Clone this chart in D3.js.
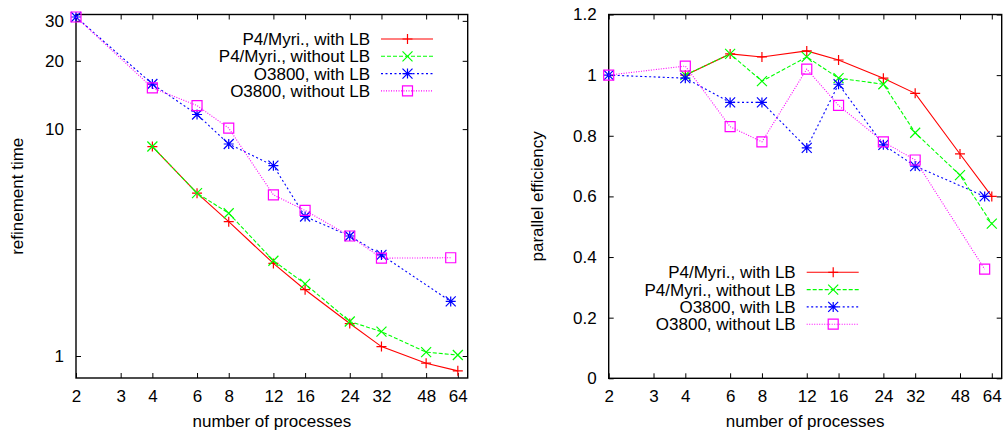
<!DOCTYPE html>
<html>
<head>
<meta charset="utf-8">
<script src="https://cdn.jsdelivr.net/npm/d3@7"></script>
<style>
	body { margin: 0; background: #fff; }
	svg text { font-family: "Liberation Sans", Arial, sans-serif; font-size: 17px; fill: #000; }
</style>
</head>
<body>
<svg id="chart" width="1006" height="435"></svg>
<script>
'use strict';

// processes used on each machine
var procsP4    = [4, 6, 8, 12, 16, 24, 32, 48, 64];
var procsO3800 = [2, 4, 6, 8, 12, 16, 24, 32, 60];

// refinement time (left plot)
var timeP4LB     = [8.38, 5.22, 3.91, 2.56, 1.96, 1.39, 1.10, 0.93, 0.86];
var timeP4NoLB   = [8.38, 5.22, 4.26, 2.63, 2.08, 1.42, 1.28, 1.04, 1.01];
var timeO3800LB   = [31.2, 15.8, 11.6, 8.6, 6.9, 4.12, 3.38, 2.79, 1.74];
var timeO3800NoLB = [31.2, 15.2, 12.7, 10.1, 5.13, 4.38, 3.38, 2.70, 2.71];

// parallel efficiency (right plot)
var effP4LB      = [1.00, 1.07, 1.06, 1.08, 1.05, 0.99, 0.94, 0.74, 0.60];
var effP4NoLB    = [1.00, 1.07, 0.98, 1.06, 0.99, 0.97, 0.81, 0.67, 0.51];
var effO3800LB    = [1.00, 0.99, 0.91, 0.91, 0.76, 0.97, 0.77, 0.70, 0.60];
var effO3800NoLB  = [1.00, 1.03, 0.83, 0.78, 1.02, 0.90, 0.78, 0.72, 0.36];

// tick labels
var procTicks = [2, 3, 4, 6, 8, 12, 16, 24, 32, 48, 64];
var timeTicks = [1, 10, 20, 30];
var effTicks  = [0, 0.2, 0.4, 0.6, 0.8, 1, 1.2];

var seriesNames  = ['P4/Myri., with LB', 'P4/Myri., without LB', 'O3800, with LB', 'O3800, without LB'];
var seriesColors = ['#ff0000', '#00ff00', '#0000ff', '#ff00ff'];
var seriesDash   = [null, '4,2', '2,2.5', '1,1.5'];
var seriesMarks  = ['plus', 'cross', 'star', 'box'];


var svg = d3.select('#chart');

// gnuplot style point symbols
var markPath = function(kind, r) {
	var plus  = 'M' + (-r) + ',0H' + r + 'M0,' + (-r) + 'V' + r;
	var cross = 'M' + (-r) + ',' + (-r) + 'L' + r + ',' + r + 'M' + (-r) + ',' + r + 'L' + r + ',' + (-r);
	if (kind == 'plus')  return plus;
	if (kind == 'cross') return cross;
	if (kind == 'star')  return plus + cross;
	return 'M' + (-r) + ',' + (-r) + 'H' + r + 'V' + r + 'H' + (-r) + 'Z';
};

var fmtTick = function(d) { return String(+d.toFixed(1)); };

function drawPanel(p) {

	var x = d3.scaleLog().base(2).domain([2, 70]).range([p.left, p.right]);
	var y = p.yScale.range([p.bottom, p.top]);

	var g = svg.append('g');

	// ticks, inward, mirrored on top / right
	g.append('g').attr('transform', 'translate(0,' + p.bottom + ')')
		.call(d3.axisBottom(x).tickValues(procTicks).tickFormat(fmtTick)
			.tickSizeInner(-5).tickSizeOuter(0).tickPadding(11.5));
	g.append('g').attr('transform', 'translate(0,' + p.top + ')')
		.call(d3.axisTop(x).tickValues(procTicks).tickFormat('')
			.tickSizeInner(-5).tickSizeOuter(0));
	g.append('g').attr('transform', 'translate(' + p.left + ',0)')
		.call(d3.axisLeft(y).tickValues(p.yTicks).tickFormat(fmtTick)
			.tickSizeInner(-5).tickSizeOuter(0).tickPadding(12));
	g.append('g').attr('transform', 'translate(' + p.right + ',0)')
		.call(d3.axisRight(y).tickValues(p.yTicks).tickFormat('')
			.tickSizeInner(-5).tickSizeOuter(0));

	g.selectAll('.domain').remove();
	g.selectAll('.tick line').attr('stroke', '#000').attr('stroke-width', 1);
	g.selectAll('.tick text').attr('font-size', null).attr('font-family', null).attr('fill', '#000');

	g.append('rect')
		.attr('x', p.left).attr('y', p.top)
		.attr('width', p.right - p.left).attr('height', p.bottom - p.top)
		.attr('fill', 'none').attr('stroke', '#000').attr('stroke-width', 1.4);

	// axis titles
	g.append('text')
		.attr('x', (p.left + p.right) / 2).attr('y', 427)
		.attr('text-anchor', 'middle')
		.text('number of processes');
	g.append('text')
		.attr('transform', 'translate(' + p.ylabelX + ',' + ((p.top + p.bottom) / 2) + ') rotate(-90)')
		.attr('text-anchor', 'middle')
		.text(p.ylabel);

	var line = d3.line().x(function(d) { return x(d[0]); }).y(function(d) { return y(d[1]); });

	p.series.forEach(function(s, i) {
		var pts = d3.zip(s.procs, s.vals);
		var sg = g.append('g');

		sg.append('path').datum(pts)
			.attr('d', line)
			.attr('fill', 'none')
			.attr('stroke', seriesColors[i])
			.attr('stroke-width', 1.1)
			.attr('stroke-dasharray', seriesDash[i]);

		sg.selectAll('path.mark').data(pts).enter().append('path')
			.attr('class', 'mark')
			.attr('transform', function(d) { return 'translate(' + x(d[0]) + ',' + y(d[1]) + ')'; })
			.attr('d', markPath(seriesMarks[i], 5))
			.attr('fill', 'none')
			.attr('stroke', seriesColors[i])
			.attr('stroke-width', 1.2);

		// legend entry
		var ly = p.legendY + i * 17.3;
		g.append('text')
			.attr('x', p.legendX).attr('y', ly)
			.attr('dy', '0.35em')
			.attr('text-anchor', 'end')
			.text(seriesNames[i]);
		g.append('line')
			.attr('x1', p.legendX + 11).attr('x2', p.legendX + 63)
			.attr('y1', ly).attr('y2', ly)
			.attr('stroke', seriesColors[i])
			.attr('stroke-width', 1.1)
			.attr('stroke-dasharray', seriesDash[i]);
		g.append('path')
			.attr('transform', 'translate(' + (p.legendX + 37.5) + ',' + ly + ')')
			.attr('d', markPath(seriesMarks[i], 5))
			.attr('fill', 'none')
			.attr('stroke', seriesColors[i])
			.attr('stroke-width', 1.2);
	});
}


drawPanel({
	left: 76, right: 467.7, top: 14.5, bottom: 378,
	yScale: d3.scaleLog().domain([0.8, 32]),
	yTicks: timeTicks,
	ylabel: 'refinement time', ylabelX: 23,
	legendX: 370, legendY: 39,
	series: [
		{procs: procsP4, vals: timeP4LB},
		{procs: procsP4, vals: timeP4NoLB},
		{procs: procsO3800, vals: timeO3800LB},
		{procs: procsO3800, vals: timeO3800NoLB}
	]
});

drawPanel({
	left: 608.7, right: 1001.7, top: 14.5, bottom: 378.3,
	yScale: d3.scaleLinear().domain([0, 1.2]),
	yTicks: effTicks,
	ylabel: 'parallel efficiency', ylabelX: 543,
	legendX: 795.7, legendY: 272.3,
	series: [
		{procs: procsP4, vals: effP4LB},
		{procs: procsP4, vals: effP4NoLB},
		{procs: procsO3800, vals: effO3800LB},
		{procs: procsO3800, vals: effO3800NoLB}
	]
});

</script>
</body>
</html>
